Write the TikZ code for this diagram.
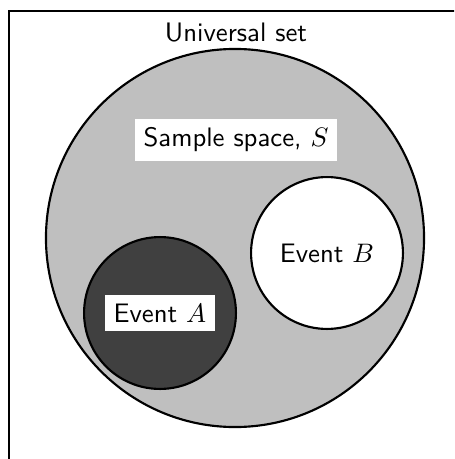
\documentclass[tikz,border=0pt]{standalone}
\usepackage{tikz}
\usetikzlibrary{positioning}
\begin{document}
\begin{tikzpicture}[
  x=0.374pt, y=-0.374pt,
  every node/.style={font=\sffamily},
  set/.style={draw, thick, circle, inner sep=0pt},
  tag/.style={fill=white}
]
\useasboundingbox (0,0) rectangle (454,459);
\clip (0,0) rectangle (454,459);
\draw[thick] (9,11) rectangle (480,480);

\node[set, fill=black!25, minimum size=141.4pt] (space) at (235,238) {};
\node[set, fill=black!75, minimum size=56.8pt] (evA) at (160,313) {};
\node[set, fill=white, minimum size=56.8pt] (evB) at (327,253) {};

\node (univlbl) at (236,33) {Universal set};
\node[tag] (spacelbl) at (236,140) {Sample space, $S$};
\node[tag] (evAlbl) at (evA) {Event $A$};
\node (evBlbl) at (evB) {Event $B$};
\end{tikzpicture}
\end{document}
